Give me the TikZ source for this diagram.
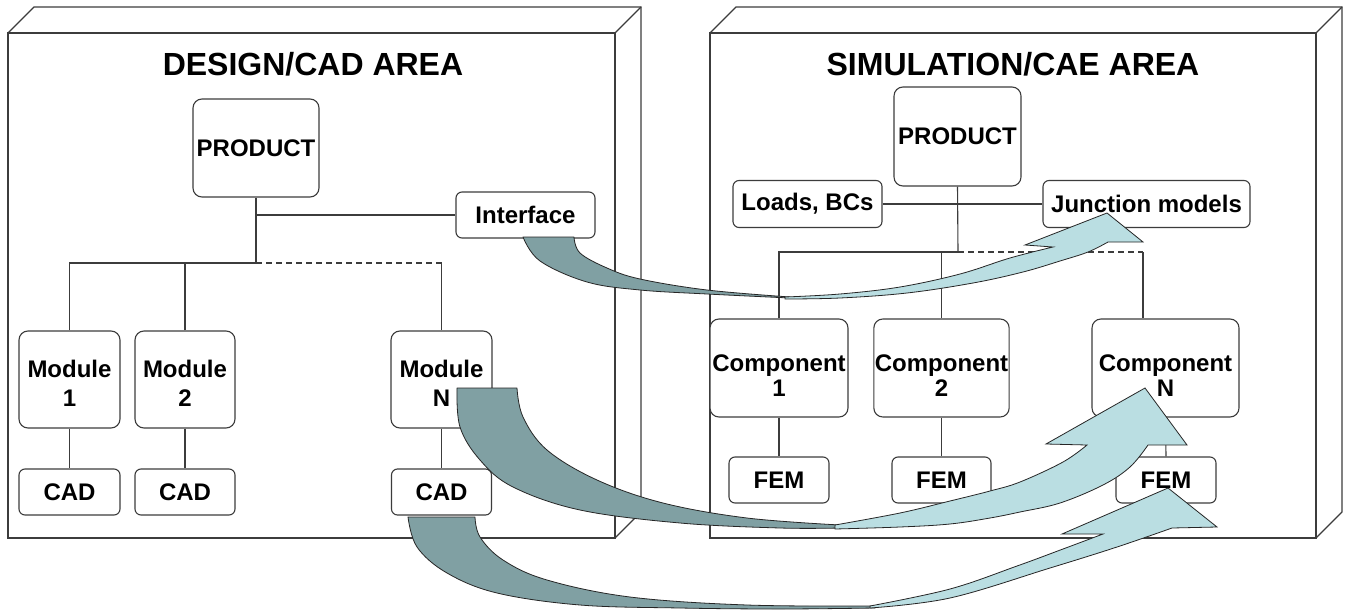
\documentclass[tikz,border=0pt]{standalone}
\usepackage{fontspec}
\setmainfont{Liberation Sans}
\usetikzlibrary{calc}
\definecolor{dk}{RGB}{128,160,163}
\definecolor{lt}{RGB}{186,222,226}
\definecolor{ln}{RGB}{60,60,60}
\newcommand{\topstrut}[1]{\rule{0pt}{#1}}
\begin{document}
\begin{tikzpicture}[x=1pt,y=-1pt,
  box/.style={draw=ln, line width=1.1pt, rounded corners=9pt, fill=white, inner sep=1pt,
              font=\fontsize{24}{29}\selectfont\bfseries, align=center},
  cbox/.style={box, font=\fontsize{24}{25}\selectfont\bfseries},
  sbox/.style={box, rounded corners=6pt, minimum height=46pt},
  frame/.style={draw=ln, line width=1.1pt},
  wire/.style={draw=ln, line width=1.1pt},
  dwire/.style={wire, dash pattern=on 6pt off 4pt},
  title/.style={font=\fontsize{32}{36}\selectfont\bfseries, inner sep=0pt},
  dkarrow/.style={fill=dk, draw=black!85, line width=0.8pt, line join=round},
  ltarrow/.style={fill=lt, draw=black!85, line width=0.8pt, line join=miter}]
\useasboundingbox (0,0) rectangle (1346,610);
\fill[white] (0,0) rectangle (1346,610);

% 3D frames
\draw[frame, fill=white] (8,33) rectangle (615,538);
\draw[frame] (8,33) -- (34,7) -- (641,7) -- (641,512) -- (615,538);
\draw[frame] (615,33) -- (641,7);
\draw[frame, fill=white] (710,33) rectangle (1316,538);
\draw[frame] (710,33) -- (736,7) -- (1342,7) -- (1342,512) -- (1316,538);
\draw[frame] (1316,33) -- (1342,7);

\node[title] (t1) at (313,64) {DESIGN/CAD AREA};
\node[title] (t2) at (1013,64) {SIMULATION/CAE AREA};

% left tree
\node[box, minimum width=126pt, minimum height=98pt] (prodL) at (256,148) {PRODUCT};
\node[sbox, minimum width=139pt] (iface) at (525.5,215) {Interface};
\node[box, minimum width=101pt, minimum height=97pt] (mod1) at (69.5,379.5) {\topstrut{24pt}Module\\1};
\node[box, minimum width=100pt, minimum height=97pt] (mod2) at (185,379.5) {\topstrut{24pt}Module\\2};
\node[box, minimum width=101pt, minimum height=97pt] (modN) at (441.5,379.5) {\topstrut{24pt}Module\\N};
\node[sbox, minimum width=101pt] (cad1) at (69.5,492) {CAD};
\node[sbox, minimum width=100pt] (cad2) at (185,492) {CAD};
\node[sbox, minimum width=100pt] (cadN) at (441.5,492) {CAD};

\coordinate (busL) at (256,263);
\coordinate (jL) at (256,215);
\draw[wire] (prodL.south) -- (busL);
\draw[wire] (jL) -- (iface.west);
\draw[wire] (mod1.north) |- (busL);
\draw[wire] (mod2.north) -- (mod2.north |- busL);
\draw[dwire] (busL) -- (busL -| modN.north);
\draw[wire] (busL -| modN.north) -- (modN.north);
\draw[wire] (mod1.south) -- (cad1.north);
\draw[wire] (mod2.south) -- (cad2.north);
\draw[wire] (modN.south) -- (cadN.north);

% right tree
\node[box, minimum width=127pt, minimum height=99pt] (prodR) at (957.5,136.5) {PRODUCT};
\node[sbox, minimum width=149pt, minimum height=47pt] (loads) at (807.5,204) {Loads, BCs};
\node[sbox, minimum width=207pt, minimum height=47pt] (junc) at (1146.5,204) {Junction models};
\node[cbox, minimum width=138pt, minimum height=98pt] (comp1) at (779,368) {\topstrut{32pt}Component\\1};
\node[cbox, minimum width=135pt, minimum height=98pt] (comp2) at (941.5,368) {\topstrut{32pt}Component\\2};
\node[cbox, minimum width=147pt, minimum height=98pt] (compN) at (1165.5,368) {\topstrut{32pt}Component\\N};
\node[sbox, minimum width=100pt] (fem1) at (779,480) {FEM};
\node[sbox, minimum width=99pt] (fem2) at (941.5,480) {FEM};
\node[sbox, minimum width=100pt] (femN) at (1166,480) {FEM};

\coordinate (busR) at (958,252);
\coordinate (nR) at (1143,252);
\draw[wire] (prodR.south) -- (busR);
\draw[wire] (loads.east) -- (junc.west);
\draw[wire] (comp1.north) |- (busR);
\draw[wire] (comp2.north) -- (comp2.north |- busR);
\draw[dwire] (busR) -- (nR);
\draw[wire] (nR) -- (nR |- compN.north);
\draw[wire] (comp1.south) -- (fem1.north);
\draw[wire] (comp2.south) -- (fem2.north);
\draw[wire] (compN.south) -- (femN.north);

% block arrow: Interface -> Junction models
\filldraw[dkarrow] plot[smooth,tension=0.6] coordinates {(523,237) (540,261) (587,282) (640,290) (707,294) (790,298)}
  -- plot[smooth,tension=0.6] coordinates {(790,297) (707,290) (640,279) (607,268) (580,253) (574,237)} -- cycle;
\filldraw[ltarrow] plot[smooth,tension=0.6] coordinates {(785,297) (840,294) (900,287) (960,274) (1010,258) (1053,247)}
  -- (1025,245) -- (1107,213) -- (1143,242)
  -- plot[smooth,tension=0.6] coordinates {(1108,242) (1088,252) (1060,261) (1023,272) (973,283) (907,293) (840,298) (785,299)} -- cycle;

% block arrow: Module N -> Component N
\filldraw[dkarrow] plot[smooth,tension=0.6] coordinates {(457,388) (460,427) (480,460) (513,487) (580,510) (680,523) (780,528) (840,528)}
  -- plot[smooth,tension=0.6] coordinates {(840,525) (747,518) (663,503) (597,480) (547,450) (523,417) (517,388)} -- cycle;
\filldraw[ltarrow] plot[smooth,tension=0.6] coordinates {(835,525) (900,513) (950,501) (990,491) (1020,482) (1063,462) (1087,445)}
  -- (1046,444) -- (1145,388) -- (1187,445)
  -- plot[smooth,tension=0.6] coordinates {(1148,445) (1130,467) (1103,485) (1060,503) (1020,512) (990,518) (950,524) (900,527) (835,529)} -- cycle;

% block arrow: CAD -> FEM
\filldraw[dkarrow] plot[smooth,tension=0.6] coordinates {(408,517) (417,547) (447,573) (497,593) (580,605) (680,608) (780,609) (875,608)}
  -- plot[smooth,tension=0.6] coordinates {(875,606) (747,605) (630,597) (547,580) (503,560) (480,537) (475,517)} -- cycle;
\filldraw[ltarrow] plot[smooth,tension=0.6] coordinates {(870,606) (950,589) (1017,566) (1063,549) (1103,534)}
  -- (1062,534) -- (1168,488) -- (1217,527)
  -- plot[smooth,tension=0.6] coordinates {(1172,528) (1117,547) (1050,568) (950,598) (870,608)} -- cycle;
\end{tikzpicture}
\end{document}
